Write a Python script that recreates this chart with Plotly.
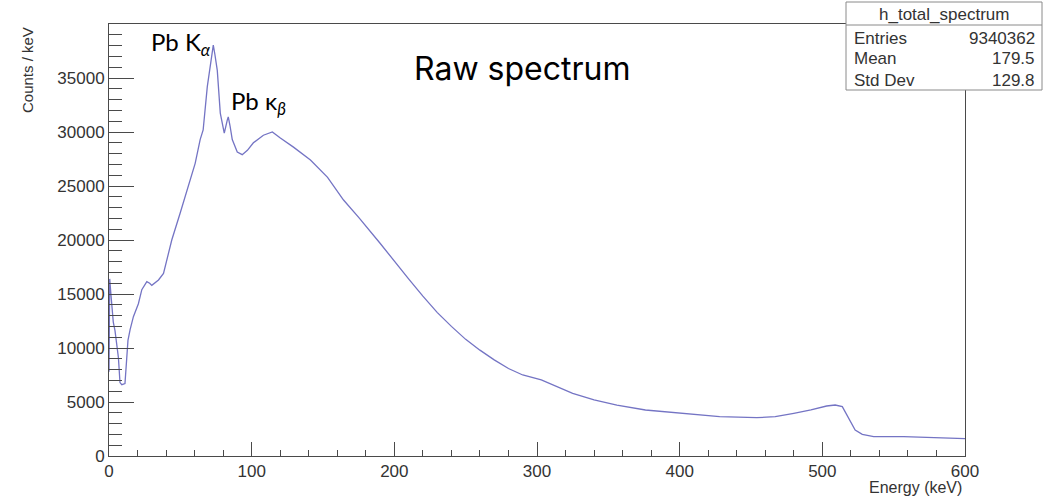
import plotly.graph_objects as go

# Energy spectrum (keV) and counts per keV
energy_kev = [
    0, 0.5, 1.2, 2.0, 3.0, 4.2, 5.5, 6.6, 7.7, 9.0, 11.2, 12.0, 12.4, 13.3, 14.8,
    17.1, 20.6, 23.0, 26.5, 28.5, 30.0, 32.0, 34.7, 38.2, 40.8, 44.0, 49.9, 55.5,
    60.4, 63.9, 66.0, 68.9, 71.7, 73.1, 74.2, 75.9, 78.0, 80.8, 82.9, 83.6, 84.8,
    86.4, 89.9, 93.4, 97.0, 101.2, 108.2, 114.5, 120.1, 129.3, 141.2, 153.2, 164.4,
    175, 190, 200, 210, 220, 230, 240, 250, 260, 270, 280, 290, 303, 325, 340, 356,
    376, 402, 428, 454, 467, 480, 492, 503, 509, 514, 518, 523, 528, 536, 557, 570, 600,
]
counts_per_kev = [
    7800, 16400, 15200, 13600, 12400, 11600, 10200, 9100, 6800, 6600, 6700, 8200,
    9900, 10700, 11700, 12900, 14100, 15400, 16150, 16000, 15800, 16000, 16300,
    16900, 18300, 20000, 22500, 24900, 27100, 29300, 30200, 34200, 36900, 38050,
    37200, 35700, 31750, 29900, 31100, 31400, 30600, 29300, 28150, 27900, 28300,
    29000, 29700, 30000, 29450, 28600, 27400, 25800, 23700, 22100, 19700, 18000,
    16400, 14800, 13300, 12000, 10800, 9800, 8900, 8100, 7500, 7040, 5800, 5200,
    4720, 4260, 3950, 3640, 3550, 3640, 3950, 4260, 4630, 4720, 4570, 3640, 2410,
    2000, 1790, 1790, 1730, 1600,
]

# Axis tick labels
y_tick_vals = [0, 5000, 10000, 15000, 20000, 25000, 30000, 35000]
x_tick_vals = [0, 100, 200, 300, 400, 500, 600]

# Statistics box contents
stats_title = "h_total_spectrum"
stats_names = ["Entries", "Mean", "Std Dev"]
stats_values = ["9340362", "179.5", "129.8"]

x_range = [0, 600]
y_range = [0, 40000]

W, H = 1057, 496
L, R, T, B = 109, 92, 24, 40
pw, ph = W - L - R, H - T - B


def px_x(p):
    return (p - L) / pw


def px_y(p):
    return (H - B - p) / ph


axis_col = "#4a4a4a"
text_col = "#333333"
sans = "Liberation Sans, Arial, sans-serif"
tick_font = dict(family=sans, size=17, color=text_col)

fig = go.Figure()
fig.add_trace(go.Scatter(
    x=energy_kev, y=counts_per_kev, mode="lines",
    line=dict(color="#7474c4", width=1.3),
    hoverinfo="skip", showlegend=False,
))

fig.update_xaxes(
    range=x_range, showgrid=False, zeroline=False,
    showline=True, linecolor=axis_col, linewidth=1, mirror=True,
    tickmode="array", tickvals=x_tick_vals, ticktext=[str(v) for v in x_tick_vals],
    ticks="inside", ticklen=14, tickwidth=1, tickcolor=axis_col,
    minor=dict(ticks="inside", ticklen=6, tickmode="linear", tick0=0, dtick=20,
               tickwidth=1, tickcolor=axis_col, showgrid=False),
    tickfont=tick_font,
)
fig.update_yaxes(
    range=y_range, showgrid=False, zeroline=False,
    showline=True, linecolor=axis_col, linewidth=1, mirror=True,
    tickmode="array", tickvals=y_tick_vals, ticktext=[str(v) for v in y_tick_vals],
    ticks="inside", ticklen=25, tickwidth=1, tickcolor=axis_col,
    minor=dict(ticks="inside", ticklen=13, tickmode="linear", tick0=0, dtick=1000,
               tickwidth=1, tickcolor=axis_col, showgrid=False),
    tickfont=tick_font,
)

annotations = [
    # axis titles
    dict(text="Counts / keV", textangle=-90, xref="paper", yref="paper",
         x=px_x(28), y=px_y(25), xanchor="center", yanchor="top", showarrow=False,
         font=dict(family=sans, size=15, color=text_col)),
    dict(text="Energy (keV)", xref="paper", yref="paper",
         x=px_x(964), y=px_y(488), xanchor="right", yanchor="middle", showarrow=False,
         font=dict(family=sans, size=16, color=text_col)),
    # peak labels
    dict(text="Pb K<sub><i>α</i></sub>", xref="paper", yref="paper",
         x=px_x(149), y=px_y(44), xanchor="left", yanchor="middle", showarrow=False,
         font=dict(family="Lato, sans-serif", size=24, color="black")),
    dict(text="Pb κ<sub><i>β</i></sub>", xref="paper", yref="paper",
         x=px_x(229), y=px_y(103), xanchor="left", yanchor="middle", showarrow=False,
         font=dict(family="Lato, sans-serif", size=24, color="black")),
    dict(text="Raw spectrum", xref="paper", yref="paper",
         x=px_x(522), y=px_y(68), xanchor="center", yanchor="middle", showarrow=False,
         font=dict(family="Inter, sans-serif", size=32, color="black")),
    # statistics box
    dict(text=stats_title, xref="paper", yref="paper",
         x=px_x(944), y=px_y(14), xanchor="center", yanchor="middle", showarrow=False,
         font=dict(family=sans, size=17, color=text_col)),
]
row_y = [38, 59, 80]
for name, val, ry in zip(stats_names, stats_values, row_y):
    annotations.append(dict(text=name, xref="paper", yref="paper",
                            x=px_x(852), y=px_y(ry), xanchor="left", yanchor="middle",
                            showarrow=False, font=dict(family=sans, size=17, color=text_col)))
    annotations.append(dict(text=val, xref="paper", yref="paper",
                            x=px_x(1037), y=px_y(ry), xanchor="right", yanchor="middle",
                            showarrow=False, font=dict(family=sans, size=17, color=text_col)))

shapes = [
    dict(type="rect", xref="paper", yref="paper", layer="above",
         x0=px_x(846), x1=px_x(1042), y0=px_y(90), y1=px_y(2),
         fillcolor="white", line=dict(color="#8a8a8a", width=1)),
    dict(type="line", xref="paper", yref="paper", layer="above",
         x0=px_x(846), x1=px_x(1042), y0=px_y(25), y1=px_y(25),
         line=dict(color="#8a8a8a", width=1)),
]

fig.update_layout(
    width=W, height=H,
    margin=dict(l=L, r=R, t=T, b=B),
    paper_bgcolor="white", plot_bgcolor="white",
    annotations=annotations, shapes=shapes,
    showlegend=False,
)

fig.write_html("out.html")
